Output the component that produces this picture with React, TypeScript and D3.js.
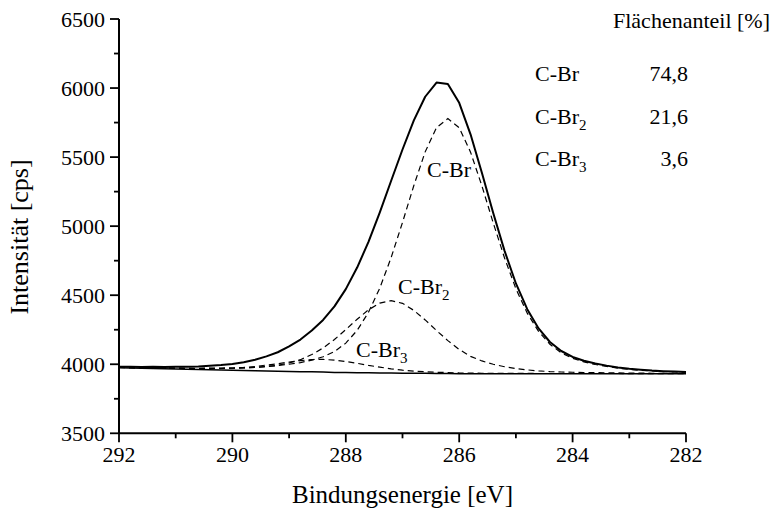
import React from "react";
import * as d3 from "d3";

// Binding energy grid [eV]
const energies = [
  292.0, 291.8, 291.6, 291.4, 291.2, 291.0, 290.8, 290.6, 290.4, 290.2,
  290.0, 289.8, 289.6, 289.4, 289.2, 289.0, 288.8, 288.6, 288.4, 288.2,
  288.0, 287.8, 287.6, 287.4, 287.2, 287.0, 286.8, 286.6, 286.4, 286.2,
  286.0, 285.8, 285.6, 285.4, 285.2, 285.0, 284.8, 284.6, 284.4, 284.2,
  284.0, 283.8, 283.6, 283.4, 283.2, 283.0, 282.8, 282.6, 282.4, 282.2, 282.0,
];

// Measured envelope [cps]
const envelope = [
  3982, 3981, 3980, 3981, 3980, 3981, 3982, 3984, 3989, 3994,
  4002, 4014, 4032, 4057, 4087, 4129, 4179, 4244, 4321, 4419,
  4544, 4700, 4886, 5100, 5329, 5555, 5766, 5937, 6040, 6030,
  5893, 5665, 5387, 5095, 4821, 4585, 4399, 4259, 4161, 4096,
  4053, 4025, 4005, 3990, 3977, 3967, 3960, 3954, 3950, 3947, 3944,
];

// Background [cps]
const background = [
  3975, 3973, 3971, 3970, 3968, 3966, 3964, 3962, 3961, 3959,
  3957, 3955, 3953, 3952, 3950, 3948, 3946, 3945, 3943, 3941,
  3940, 3939, 3938, 3937, 3936, 3935, 3934, 3934, 3933, 3933,
  3932, 3932, 3932, 3932, 3932, 3932, 3932, 3932, 3932, 3932,
  3932, 3932, 3932, 3932, 3932, 3932, 3932, 3932, 3932, 3932, 3932,
];

// Fit components (incl. background) [cps]
const compCBr = [
  3978, 3976, 3975, 3974, 3973, 3972, 3971, 3970, 3971, 3971,
  3972, 3974, 3977, 3983, 3990, 4000, 4012, 4030, 4054, 4092,
  4153, 4245, 4376, 4552, 4773, 5027, 5294, 5538, 5714, 5779,
  5713, 5536, 5292, 5024, 4769, 4547, 4370, 4238, 4145, 4083,
  4043, 4017, 3998, 3984, 3972, 3963, 3956, 3951, 3947, 3944, 3942,
];
const compCBr2 = [
  3977, 3976, 3974, 3974, 3972, 3971, 3970, 3969, 3970, 3970,
  3971, 3973, 3977, 3984, 3993, 4009, 4033, 4070, 4118, 4179,
  4251, 4326, 4394, 4443, 4461, 4441, 4390, 4321, 4244, 4171,
  4107, 4057, 4024, 4000, 3982, 3968, 3959, 3952, 3947, 3944,
  3942, 3940, 3939, 3938, 3937, 3936, 3936, 3935, 3935, 3935, 3934,
];
const compCBr3 = [
  3977, 3975, 3973, 3973, 3971, 3970, 3969, 3969, 3970, 3971,
  3973, 3977, 3984, 3994, 4004, 4016, 4026, 4034, 4035, 4030,
  4020, 4007, 3992, 3979, 3967, 3957, 3950, 3946, 3942, 3940,
  3937, 3936, 3935, 3935, 3934, 3934, 3934, 3933, 3933, 3933,
  3933, 3933, 3933, 3933, 3933, 3932, 3932, 3932, 3932, 3932, 3932,
];

const xTicks = [292, 290, 288, 286, 284, 282];
const xMinorTicks = [291, 289, 287, 285, 283];
const yTicks = [3500, 4000, 4500, 5000, 5500, 6000, 6500];
const yMinorTicks = [3750, 4250, 4750, 5250, 5750, 6250];

const legendNames = ["C-Br", "C-Br", "C-Br"];
const legendSubs = ["", "2", "3"];
const legendShares = ["74,8", "21,6", "3,6"];

const FONT = "'Liberation Serif', 'Times New Roman', serif";

export default function App() {
  const W = 773;
  const H = 512;
  const left = 119;
  const right = 686;
  const top = 19;
  const bottom = 433.3;

  const x = d3.scaleLinear().domain([292, 282]).range([left, right]);
  const y = d3.scaleLinear().domain([3500, 6500]).range([bottom, top]);

  const line = (vals: number[]) =>
    d3
      .line<number>()
      .x((_, i) => x(energies[i]))
      .y((d) => y(d))(vals) as string;

  const comps = [compCBr, compCBr2, compCBr3];

  return (
    <svg
      width={W}
      height={H}
      style={{ position: "absolute", left: 0, top: 0, background: "#fff", fontFamily: FONT }}
    >
      <rect x={0} y={0} width={W} height={H} fill="#fff" />
      {/* background */}
      <path d={line(background)} fill="none" stroke="#000" strokeWidth={1.5} />
      {/* components */}
      {comps.map((c, k) => (
        <path
          key={k}
          d={line(c)}
          fill="none"
          stroke="#000"
          strokeWidth={1.2}
          strokeDasharray="6,4"
        />
      ))}
      {/* envelope */}
      <path d={line(envelope)} fill="none" stroke="#000" strokeWidth={2} strokeLinejoin="round" />

      {/* axes */}
      <line x1={left} x2={left} y1={top} y2={bottom} stroke="#000" strokeWidth={2} />
      <line x1={left} x2={right} y1={bottom} y2={bottom} stroke="#000" strokeWidth={2} />
      {yTicks.map((t) => (
        <g key={"y" + t}>
          <line x1={left - 9} x2={left} y1={y(t)} y2={y(t)} stroke="#000" strokeWidth={1.8} />
          <text x={left - 14} y={y(t)} dy="0.35em" textAnchor="end" fontSize={22}>
            {t}
          </text>
        </g>
      ))}
      {yMinorTicks.map((t) => (
        <line key={"ym" + t} x1={left - 5} x2={left} y1={y(t)} y2={y(t)} stroke="#000" strokeWidth={1.8} />
      ))}
      {xTicks.map((t) => (
        <g key={"x" + t}>
          <line x1={x(t)} x2={x(t)} y1={bottom} y2={bottom + 9} stroke="#000" strokeWidth={1.8} />
          <text x={x(t)} y={bottom + 29} textAnchor="middle" fontSize={22}>
            {t}
          </text>
        </g>
      ))}
      {xMinorTicks.map((t) => (
        <line key={"xm" + t} x1={x(t)} x2={x(t)} y1={bottom} y2={bottom + 5} stroke="#000" strokeWidth={1.8} />
      ))}

      {/* axis titles */}
      <text x={(left + right) / 2} y={503} textAnchor="middle" fontSize={25}>
        Bindungsenergie [eV]
      </text>
      <text transform={`translate(28, 237) rotate(-90)`} textAnchor="middle" fontSize={26}>
        Intensität [cps]
      </text>

      {/* peak labels */}
      <text x={427} y={177} fontSize={22}>C-Br</text>
      <text x={398} y={294} fontSize={22}>
        C-Br<tspan fontSize={15} dy={6}>2</tspan>
      </text>
      <text x={356} y={357} fontSize={22}>
        C-Br<tspan fontSize={15} dy={6}>3</tspan>
      </text>

      {/* legend table */}
      <text x={770} y={28} textAnchor="end" fontSize={22}>
        Flächenanteil [%]
      </text>
      {legendNames.map((n, i) => (
        <g key={"l" + i}>
          <text x={535} y={81 + i * 42.5} fontSize={22}>
            {n}
            {legendSubs[i] && (
              <tspan fontSize={15} dy={6}>
                {legendSubs[i]}
              </tspan>
            )}
          </text>
          <text x={688} y={81 + i * 42.5} textAnchor="end" fontSize={22}>
            {legendShares[i]}
          </text>
        </g>
      ))}
    </svg>
  );
}
